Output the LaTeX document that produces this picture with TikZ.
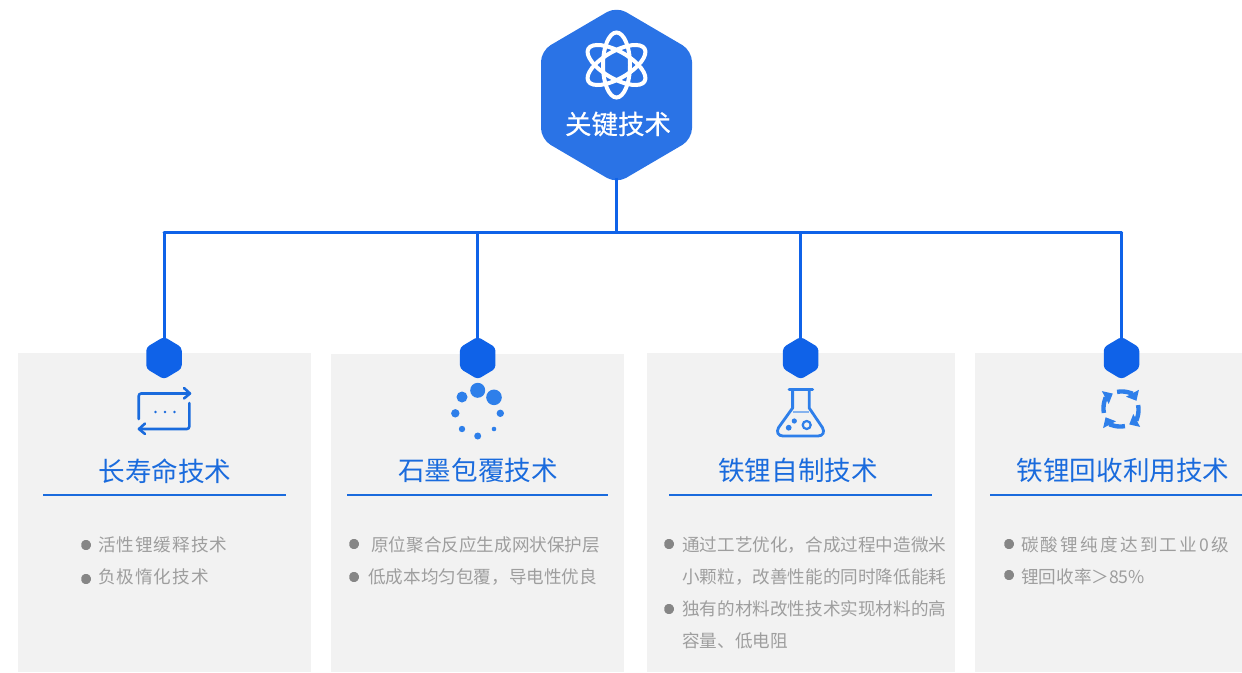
\documentclass[tikz,border=0pt]{standalone}
\usepackage{fontspec}
\setmainfont{Noto Sans CJK SC}
\usetikzlibrary{arrows.meta}
\definecolor{hubblue}{HTML}{2A73E6}
\definecolor{linkblue}{HTML}{0F62E8}
\definecolor{iconblue}{HTML}{2E7FEA}
\definecolor{titleblue}{HTML}{1A6BDD}
\definecolor{cardgray}{HTML}{F2F2F2}
\definecolor{bodygray}{HTML}{9E9E9E}
\definecolor{bulletgray}{HTML}{868686}
\tikzset{
  link/.style={draw=linkblue,line width=3pt},
  holder/.style={inner sep=0pt,outer sep=0pt,rectangle},
  titletext/.style={text=titleblue,font=\fontsize{26.6pt}{30pt}\selectfont,inner sep=0pt},
  bodytext/.style={text=bodygray,font=\fontsize{17.6pt}{20pt}\selectfont,inner sep=0pt,anchor=west},
  rule/.style={draw=titleblue,line width=2pt},
  iconline/.style={draw=titleblue,line width=2.6pt,line cap=round,line join=round},
  flaskline/.style={draw=iconblue,line width=2.8pt,line cap=round,line join=round},
  atomline/.style={draw=white,line width=4pt},
  cycle arc/.style={draw=iconblue,line width=4.4pt,-{Triangle[length=8.5pt,width=14pt]}},
}
% name, cx, cy, w, h, corner, colour
\newcommand{\hexnode}[7]{%
  \fill[#7,rounded corners=#6pt] (#2,#3-#5/2) -- (#2+#4/2,#3-#5/4) -- (#2+#4/2,#3+#5/4)
     -- (#2,#3+#5/2) -- (#2-#4/2,#3+#5/4) -- (#2-#4/2,#3-#5/4) -- cycle;
  \node[holder,minimum width=#4pt,minimum height=#5pt] (#1) at (#2,#3) {};
}
\newcommand{\bulletmark}[3]{\hexnode{#1}{#2}{#3}{9.5}{11.5}{1.5}{bulletgray}}
\newcommand{\spaced}[1]{\addfontfeature{LetterSpace=#1}}
\begin{document}
\begin{tikzpicture}[x=1pt,y=-1pt]
\useasboundingbox (0,0) rectangle (1242,672);
% cards
\fill[cardgray] (18,353) rectangle (311,672);
\fill[cardgray] (331,354) rectangle (624,672);
\fill[cardgray] (647,353) rectangle (955,672);
\fill[cardgray] (975,353) rectangle (1242,672);
% hexagons
\hexnode{hub}{616.5}{95}{151}{177}{11}{hubblue}
\hexnode{hexa}{164}{358}{35.5}{42.5}{3.5}{linkblue}
\hexnode{hexb}{477.7}{358}{35.5}{42.5}{3.5}{linkblue}
\hexnode{hexc}{800.7}{358}{35.5}{42.5}{3.5}{linkblue}
\hexnode{hexd}{1121.5}{358}{35.5}{42.5}{3.5}{linkblue}
% connectors
\coordinate (trunk) at (616.5,232);
\coordinate (busa) at (hexa.north |- trunk);
\coordinate (busb) at (hexb.north |- trunk);
\coordinate (busc) at (hexc.north |- trunk);
\coordinate (busd) at (hexd.north |- trunk);
\draw[link] ([yshift=6pt]hub.south) -- (trunk);
\draw[link,line cap=round] (busa) -- (busd);
\draw[link] (busa) -- ([yshift=-3pt]hexa.north);
\draw[link] (busb) -- ([yshift=-3pt]hexb.north);
\draw[link] (busc) -- ([yshift=-3pt]hexc.north);
\draw[link] (busd) -- ([yshift=-3pt]hexd.north);
% atom
\begin{scope}[shift={(616.5,65)}]
  \draw[atomline] (0,0) ellipse (13.5 and 32.5);
  \draw[atomline,rotate=60] (0,0) ellipse (13.5 and 32.5);
  \draw[atomline,rotate=-60] (0,0) ellipse (13.5 and 32.5);
\end{scope}
\node[text=white,font=\fontsize{26.5pt}{30pt}\selectfont,inner sep=0pt] (hubtext) at (618,124) {\addfontfeature{FakeBold=0.4}关键技术};
% loop icon
\draw[iconline,rounded corners=2.5pt] (138.7,419) -- (138.7,393.5) -- (189,393.5);
\draw[iconline] (184,388) -- (190,393.5) -- (184,398.5);
\draw[iconline,rounded corners=2.5pt] (189.3,403) -- (189.3,429) -- (139,429);
\draw[iconline] (145,423.5) -- (139,429) -- (145,434);
\fill[titleblue] (155.5,412) circle (1.3) (165,412) circle (1.3) (174.5,412) circle (1.3);
% dots icon
\fill[iconblue] (477.7,390.3) circle (7.5) (494,397.3) circle (7.8) (462,397) circle (5.5)
  (455.3,413.3) circle (4.2) (500.3,413.3) circle (3.7) (462,429) circle (3.2)
  (494,429) circle (2.3) (477.7,436) circle (3.5);
% flask icon
\draw[flaskline] (789,389.5) -- (812.7,389.5);
\draw[flaskline] (792.6,390) -- (792.6,408) -- (778.6,427.5)
  .. controls (776,432) and (778,436) .. (783,436) -- (818,436)
  .. controls (823,436) and (825,432) .. (822.4,427.5) -- (809.2,408) -- (809.2,390);
\draw[draw=iconblue!55!cardgray,line width=2pt] (792.6,411.5) -- (809.2,411.5);
\fill[iconblue] (788.7,427.7) circle (2.9) (794.3,421) circle (2.6);
\draw[draw=iconblue,line width=2.2pt] (806.7,425) circle (4);
% cycle icon
\begin{scope}[shift={(1121,409)},y=1pt]
\draw[cycle arc] (103:17.5) arc[start angle=103,end angle=28,radius=17.5];
\draw[cycle arc] (13:17.5) arc[start angle=13,end angle=-62,radius=17.5];
\draw[cycle arc] (-77:17.5) arc[start angle=-77,end angle=-152,radius=17.5];
\draw[cycle arc] (-167:17.5) arc[start angle=-167,end angle=-242,radius=17.5];
\end{scope}
% titles
\node[titletext] (ta) at (165,471) {长寿命技术};
\node[titletext] (tb) at (478,470) {石墨包覆技术};
\node[titletext] (tc) at (798,470) {铁锂自制技术};
\node[titletext] (td) at (1123,470) {铁锂回收利用技术};
\draw[rule] (43,495) -- (286,495);
\draw[rule] (347,495) -- (608,495);
\draw[rule] (669,495) -- (932,495);
\draw[rule] (990,495) -- (1242,495);
% card a
\bulletmark{ba1}{86}{545}
\bulletmark{ba2}{86}{579}
\node[bodytext] (la1) at (98,545) {\spaced{5.7}活性锂缓释技术};
\node[bodytext] (la2) at (98,577) {\spaced{5.7}负极惰化技术};
% card b
\bulletmark{bb1}{354}{544}
\bulletmark{bb2}{354}{577}
\node[bodytext] (lb1) at (371,545) {原位聚合反应生成网状保护层};
\node[bodytext] (lb2) at (368,577) {低成本均匀包覆，导电性优良};
% card c
\bulletmark{bc1}{669}{544}
\bulletmark{bc2}{669}{609}
\node[bodytext] (lc1) at (682,545) {通过工艺优化，合成过程中造微米};
\node[bodytext] (lc2) at (682,577) {小颗粒，改善性能的同时降低能耗};
\node[bodytext] (lc3) at (682,609) {独有的材料改性技术实现材料的高};
\node[bodytext] (lc4) at (682,641) {容量、低电阻};
% card d
\bulletmark{bd1}{1009}{544}
\bulletmark{bd2}{1009}{575}
\node[bodytext] (ld1) at (1021,545) {\spaced{12.5}碳酸锂纯度达到工业0级};
\node[bodytext] (ld2) at (1021,577) {锂回收率＞85\%};
\end{tikzpicture}
\end{document}
